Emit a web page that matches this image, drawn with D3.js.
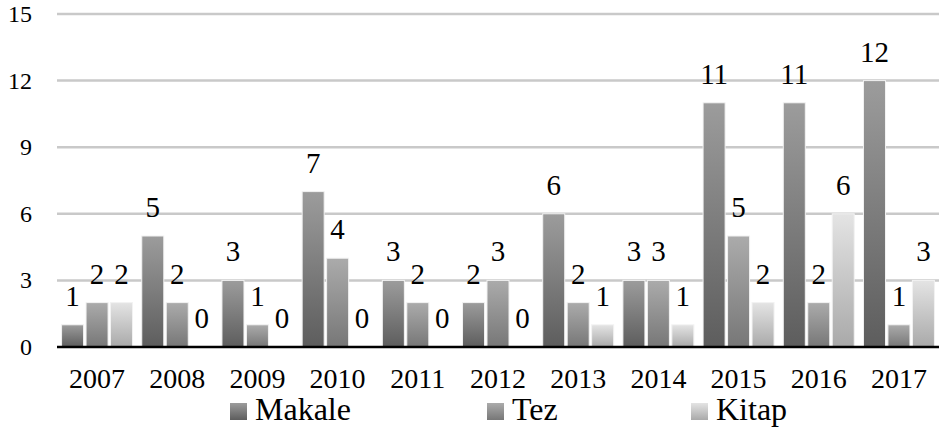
<!DOCTYPE html>
<html>
<head>
<meta charset="utf-8">
<script src="https://cdn.jsdelivr.net/npm/d3@7"></script>
<style>
  svg text { font-family: "Liberation Serif", serif !important; }
</style>
</head>
<body style="margin:0">
<svg width="939" height="431" font-family="Liberation Serif, serif"></svg>
<script>
// years on the x axis
const years = ['2007', '2008', '2009', '2010', '2011', '2012', '2013', '2014', '2015', '2016', '2017']
const seriesNames = ['Makale', 'Tez', 'Kitap']
const makale = [1, 5, 3, 7, 3, 2, 6, 3, 11, 11, 12]
const tez = [2, 2, 1, 4, 2, 3, 2, 3, 5, 2, 1]
const kitap = [2, 0, 0, 0, 0, 0, 1, 1, 2, 6, 3]
const yTicks = [0, 3, 6, 9, 12, 15]

const values = [makale, tez, kitap]
// top / bottom colour of each gradient
const grads = [['#9c9c9c', '#5d5d5d'], ['#ababab', '#777777'], ['#e4e4e4', '#a9a9a9']]
const serif = '"Liberation Serif", serif'

const svg = d3.select('svg')
const width = +svg.attr('width')
const plotLeft = 57, plotTop = 14, base = 347

const x = d3.scaleBand().domain(years).range([plotLeft, width]).paddingInner(0.115).paddingOuter(0.057)
const x1 = d3.scaleBand().domain(seriesNames).range([0, x.bandwidth()]).paddingInner(0.1)
const y = d3.scaleLinear().domain([0, 15]).range([base, plotTop])

const defs = svg.append('defs')
seriesNames.forEach(function (s, i) {
  const lg = defs.append('linearGradient').attr('id', 'g' + i)
    .attr('x1', 0).attr('y1', 0).attr('x2', 0).attr('y2', 1)
  lg.append('stop').attr('offset', '0%').attr('stop-color', grads[i][0])
  lg.append('stop').attr('offset', '100%').attr('stop-color', grads[i][1])
})

// gridlines
svg.append('g').selectAll('line')
  .data(yTicks.filter(function (d) { return d > 0 }))
  .enter().append('line')
  .attr('x1', plotLeft).attr('x2', width)
  .attr('y1', function (d) { return y(d) }).attr('y2', function (d) { return y(d) })
  .attr('stroke', '#c9c9c9').attr('stroke-width', 2.5)

// y tick labels
svg.append('g').selectAll('text')
  .data(yTicks)
  .enter().append('text')
  .attr('x', 32).attr('y', function (d) { return y(d) + 8 })
  .attr('text-anchor', 'end')
  .attr('font-size', 24)
  .text(function (d) { return d })

// bars
const rows = []
years.forEach(function (yr, j) {
  seriesNames.forEach(function (s, i) {
    rows.push({ year: yr, s: s, i: i, v: values[i][j] })
  })
})

svg.append('g').selectAll('rect')
  .data(rows.filter(function (d) { return d.v > 0 }))
  .enter().append('rect')
  .attr('x', function (d) { return x(d.year) + x1(d.s) })
  .attr('width', x1.bandwidth())
  .attr('y', function (d) { return y(d.v) })
  .attr('height', function (d) { return base - y(d.v) })
  .attr('fill', function (d) { return 'url(#g' + d.i + ')' })
  .attr('stroke', '#f2f2f2').attr('stroke-width', 1)

// value labels
svg.append('g').selectAll('text')
  .data(rows)
  .enter().append('text')
  .attr('x', function (d) { return x(d.year) + x1(d.s) + x1.bandwidth() / 2 })
  .attr('y', function (d) { return y(d.v) - 19 })
  .attr('text-anchor', 'middle')
  .attr('font-size', 29)
  .text(function (d) { return d.v })

// baseline axis
svg.append('line')
  .attr('x1', plotLeft).attr('x2', width)
  .attr('y1', base).attr('y2', base)
  .attr('stroke', '#000').attr('stroke-width', 2.3)

// x tick labels
svg.append('g').selectAll('text')
  .data(years)
  .enter().append('text')
  .attr('x', function (d) { return x(d) + x.bandwidth() / 2 })
  .attr('y', 388)
  .attr('text-anchor', 'middle')
  .attr('font-size', 28)
  .text(function (d) { return d })

// legend
const legendX = [230, 487, 691]
const lg = svg.append('g').selectAll('g')
  .data(seriesNames)
  .enter().append('g')
  .attr('transform', function (d, i) { return 'translate(' + legendX[i] + ',420)' })
lg.append('rect')
  .attr('x', 0).attr('y', -17).attr('width', 17).attr('height', 17)
  .attr('fill', function (d, i) { return 'url(#g' + i + ')' })
lg.append('text')
  .attr('x', 25).attr('y', 0)
  .attr('font-size', 32)
  .text(function (d) { return d })

// force the serif face on every label
svg.selectAll('text')
  .attr('font-family', 'Liberation Serif, serif')
  .style('font-family', serif, 'important')
</script>
</body>
</html>
